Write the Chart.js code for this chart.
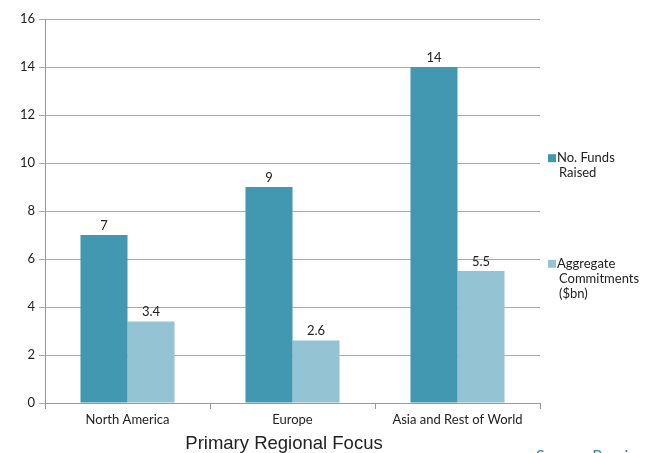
<!DOCTYPE html>
<html>
<head>
<meta charset="utf-8">
<script src="https://cdn.jsdelivr.net/npm/chart.js@4/dist/chart.umd.min.js"></script>
<style>
  html, body { margin: 0; padding: 0; background: #fff; }
  #wrap { position: relative; width: 654px; height: 453px; }
</style>
</head>
<body>
<div id="wrap"><canvas id="regionChart" width="654" height="453"></canvas></div>
<script>
const regions = ["North America", "Europe", "Asia and Rest of World"];
const fundsRaised = [7, 9, 14];
const commitments = [3.4, 2.6, 5.5];
const seriesNames = [["No. Funds", "Raised"], ["Aggregate", "Commitments", "($bn)"]];
const yTicks = [0, 2, 4, 6, 8, 10, 12, 14, 16];
const axisTitle = "Primary Regional Focus";
const sourceNote = "Source: Preqin";

const labelFont = "'Lato', 'Open Sans', sans-serif";

// numbers printed above each bar
const valueLabels = {
  id: "valueLabels",
  afterDatasetsDraw(chart) {
    const ctx = chart.ctx;
    ctx.save();
    ctx.font = "13px " + labelFont;
    ctx.fillStyle = "#222";
    ctx.textAlign = "center";
    ctx.textBaseline = "bottom";
    chart.data.datasets.forEach((ds, i) => {
      chart.getDatasetMeta(i).data.forEach((bar, j) => {
        ctx.fillText(String(ds.data[j]), bar.x, bar.y - 3);
      });
    });
    ctx.restore();
  }
};

// legend on the right with wrapped names, axis title and source line
const sideNotes = {
  id: "sideNotes",
  afterDraw(chart) {
    const ctx = chart.ctx;
    const y = chart.scales.y;
    const anchors = [10.2, 5.8];
    ctx.save();
    ctx.font = "13px " + labelFont;
    ctx.textBaseline = "middle";
    ctx.textAlign = "left";
    chart.data.datasets.forEach((ds, i) => {
      const top = y.getPixelForValue(anchors[i]);
      ctx.fillStyle = ds.backgroundColor;
      ctx.fillRect(548, top - 4, 8, 8);
      ctx.fillStyle = "#222";
      seriesNames[i].forEach((line, k) => {
        ctx.fillText(line, k === 0 ? 557 : 559, top + k * 15);
      });
    });

    ctx.textBaseline = "alphabetic";
    ctx.textAlign = "center";
    ctx.font = "18.5px 'Liberation Sans', Arial, sans-serif";
    ctx.fillText(axisTitle, 284, 449);

    ctx.textAlign = "left";
    ctx.fillStyle = "#2b8bb0";
    ctx.font = "16px " + labelFont;
    ctx.fillText(sourceNote, 536, 461);
    ctx.restore();
  }
};

new Chart(document.getElementById("regionChart"), {
  type: "bar",
  data: {
    labels: regions,
    datasets: [
      { label: seriesNames[0].join(" "), data: fundsRaised, backgroundColor: "#4198b0" },
      { label: seriesNames[1].join(" "), data: commitments, backgroundColor: "#94c3d4" }
    ]
  },
  options: {
    responsive: false,
    animation: false,
    layout: { padding: { left: 0, top: 19, right: 114, bottom: 0 } },
    categoryPercentage: 0.57,
    barPercentage: 1.0,
    plugins: {
      legend: { display: false },
      tooltip: { enabled: false }
    },
    scales: {
      x: {
        afterFit(scale) { scale.height = 50; },
        grid: { drawOnChartArea: false, offset: true, color: "#999", tickLength: 6 },
        border: { color: "#999" },
        ticks: { color: "#222", font: { family: labelFont, size: 13 }, padding: 3 }
      },
      y: {
        min: 0,
        max: 16,
        afterFit(scale) { scale.width = 45; },
        afterBuildTicks(scale) { scale.ticks = yTicks.map(v => ({ value: v })); },
        grid: { color: "#aaa", tickLength: 6 },
        border: { color: "#999" },
        ticks: { color: "#222", font: { family: labelFont, size: 13 }, padding: 4 }
      }
    }
  },
  plugins: [valueLabels, sideNotes]
});
</script>
</body>
</html>
